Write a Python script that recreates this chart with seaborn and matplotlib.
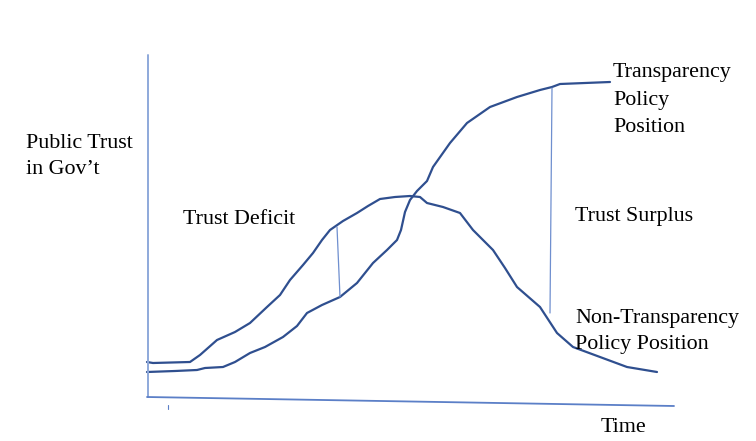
import matplotlib
matplotlib.use("Agg")
import matplotlib.pyplot as plt
import seaborn as sns
import pandas as pd

# Data (time units ~ pixels, trust = height above bottom)
H = 441
transp_time = [147, 175, 197, 205, 223, 235, 250, 265, 283, 297, 307, 322, 340, 357,
               373, 387, 397, 401, 405, 410, 417, 427, 433, 450, 467, 490, 517, 540, 552, 560, 610]
transp_y = [372, 371, 370, 368, 367, 362, 353, 347, 337, 326, 313, 305, 297, 283,
            263, 250, 240, 230, 212, 200, 191, 181, 167, 143, 123, 107, 97, 90, 87, 84, 82]
nontr_time = [147, 153, 190, 200, 217, 235, 250, 267, 280, 290, 303, 313, 322, 330, 343,
              357, 368, 380, 395, 410, 420, 427, 443, 460, 473, 493, 505, 517, 540, 557,
              573, 600, 627, 657]
nontr_y = [362, 363, 362, 355, 340, 332, 323, 307, 295, 280, 265, 253, 240, 230, 221,
           213, 206, 199, 197, 196, 197, 203, 207, 213, 230, 250, 268, 287, 307, 333,
           347, 357, 367, 372]
gap_time = [[337, 340], [552, 550]]
gap_y = [[227, 297], [88, 313]]

df = pd.concat([
    pd.DataFrame({"time": transp_time, "trust": [H - v for v in transp_y], "policy": "Transparency"}),
    pd.DataFrame({"time": nontr_time, "trust": [H - v for v in nontr_y], "policy": "Non-Transparency"}),
])

sns.set_style("white")
plt.rcParams["font.family"] = ["Liberation Serif", "DejaVu Serif"]
plt.rcParams["text.color"] = "black"

fig = plt.figure(figsize=(7.56, 4.41), dpi=100)
ax = fig.add_axes([0, 0, 1, 1])
ax.set_xlim(0, 756)
ax.set_ylim(0, H)
ax.axis("off")

curve = "#2F4F8F"
sns.lineplot(data=df, x="time", y="trust", hue="policy", sort=False,
             palette={"Transparency": curve, "Non-Transparency": curve},
             linewidth=1.6, legend=False, ax=ax, estimator=None,
             solid_joinstyle="round", solid_capstyle="round")

for gx, gy in zip(gap_time, gap_y):
    ax.plot(gx, [H - v for v in gy], color="#6F8FCF", linewidth=0.9)

# axes drawn as lines
ax.plot([148, 148], [H - 55, H - 397], color="#8EA9DB", linewidth=1.4)
ax.plot([147, 674], [H - 397, H - 406], color="#5B7FC7", linewidth=1.3)
ax.plot([168, 168], [H - 405, H - 409], color="#5B7FC7", linewidth=0.8)

fs = 15.8
tc = "black"
ax.text(26, H - 143, "Public Trust", fontsize=fs, va="center", ha="left", color=tc)
ax.text(26, H - 169, "in Gov\u2019t", fontsize=fs, va="center", ha="left", color=tc)
ax.text(183, H - 219, "Trust Deficit", fontsize=fs, va="center", ha="left", color=tc)
ax.text(613, H - 72, "Transparency", fontsize=fs, va="center", ha="left", color=tc)
ax.text(613, H - 100, "Policy", fontsize=fs, va="center", ha="left", color=tc)
ax.text(613, H - 127, "Position", fontsize=fs, va="center", ha="left", color=tc)
ax.text(575, H - 216, "Trust Surplus", fontsize=fs, va="center", ha="left", color=tc)
ax.text(575, H - 318, "Non-Transparency", fontsize=fs, va="center", ha="left", color=tc)
ax.text(575, H - 345, "Policy Position", fontsize=fs, va="center", ha="left", color=tc)
ax.text(601, H - 427, "Time", fontsize=fs, va="center", ha="left", color=tc)

fig.savefig("out.png", dpi=100)
